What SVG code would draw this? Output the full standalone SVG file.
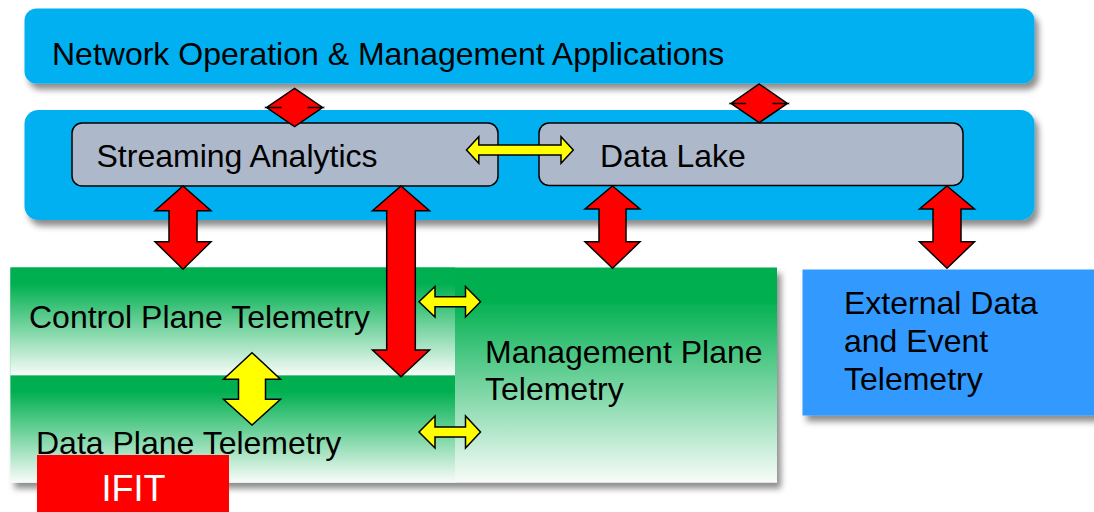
<svg xmlns="http://www.w3.org/2000/svg" width="1094" height="512" viewBox="0 0 1094 512">
  <defs>
    <filter id="shadow" x="-5%" y="-10%" width="115%" height="130%">
      <feDropShadow dx="4" dy="6" stdDeviation="3" flood-color="#000" flood-opacity="0.45"/>
    </filter>
    <linearGradient id="greenFade" x1="0" y1="0" x2="0" y2="1">
      <stop offset="0" stop-color="#00AE4F"/>
      <stop offset="0.15" stop-color="#00B050"/>
      <stop offset="1" stop-color="#F8FCF9"/>
    </linearGradient>
    <style>
      .lbl { font-family: "Liberation Sans", Arial, sans-serif; font-size: 32px; fill: #000; }
      .blue { fill: #00B0F0; filter: url(#shadow); }
      .gray { fill: #ADB9CA; stroke: #000; stroke-width: 1.5; }
      .green { fill: url(#greenFade); }
      .red { fill: #FF0000; stroke: #000; stroke-width: 1.5; stroke-linejoin: miter; }
      .yel { fill: #FFFF00; stroke: #000; stroke-width: 1.5; stroke-linejoin: miter; }
    </style>
  </defs>

  <!-- application layer -->
  <g id="apps">
    <rect class="blue" x="24.5" y="8.5" width="1010" height="75" rx="12"/>
    <text class="lbl" x="52" y="65">Network Operation &amp; Management Applications</text>
  </g>

  <!-- analytics layer container -->
  <g id="analytics-layer">
    <rect class="blue" x="24.5" y="110" width="1010" height="110" rx="14"/>
  </g>

  <g id="streaming">
    <rect class="gray" x="72" y="123" width="426" height="63" rx="10"/>
    <text class="lbl" x="96.5" y="167">Streaming Analytics</text>
  </g>

  <g id="datalake">
    <rect class="gray" x="539" y="123" width="424" height="62.5" rx="10"/>
    <text class="lbl" x="600" y="167">Data Lake</text>
  </g>

  <!-- telemetry sources -->
  <g id="mgmt-plane">
    <rect class="green" x="10.5" y="267.5" width="766.5" height="215" filter="url(#shadow)"/>
    <text class="lbl" x="485" y="363">Management Plane</text>
    <text class="lbl" x="485" y="400">Telemetry</text>
  </g>

  <g id="control-plane">
    <rect class="green" x="10.5" y="267.5" width="444.5" height="108"/>
    <text class="lbl" x="29" y="327.5">Control Plane Telemetry</text>
  </g>

  <g id="data-plane">
    <rect class="green" x="10.5" y="375.5" width="444.5" height="107"/>
    <text class="lbl" x="36" y="453.5">Data Plane Telemetry</text>
  </g>

  <g id="external">
    <rect x="802.5" y="269.5" width="300" height="146" fill="#3399FF" filter="url(#shadow)"/>
    <text class="lbl" x="844" y="313.5">External Data</text>
    <text class="lbl" x="844" y="352">and Event</text>
    <text class="lbl" x="844" y="390">Telemetry</text>
  </g>

  <!-- connectors: block double arrows -->
  <g id="connectors">
    <!-- apps <-> streaming analytics -->
    <path class="red" d="M294.6,88.3 L322.6,107.5 L307.6,107.5 L307.6,107.5 L322.6,107.5 L294.6,126.7 L266.6,107.5 L281.6,107.5 L281.6,107.5 L266.6,107.5 Z"/>
    <!-- apps <-> data lake -->
    <path class="red" d="M759.2,84 L787.4,103.4 L772.4,103.4 L772.4,103.4 L787.4,103.4 L759.2,122.7 L731,103.4 L746,103.4 L746,103.4 L731,103.4 Z"/>
    <!-- streaming <-> data lake -->
    <path class="yel" d="M466.5,150 L478.8,136.7 L478.8,145 L561,145 L561,136.7 L573.3,150 L561,163.3 L561,155 L478.8,155 L478.8,163.3 Z"/>
    <!-- streaming <-> control plane -->
    <path class="red" d="M183,186 L211,210.7 L197,210.7 L197,241.7 L211,241.7 L183,269.3 L155,241.7 L169,241.7 L169,210.7 L155,210.7 Z"/>
    <!-- streaming <-> data plane -->
    <path class="red" d="M401,186 L429.5,210.7 L415.3,210.7 L415.3,350 L429.5,350 L401,376.7 L372.5,350 L386.7,350 L386.7,210.7 L372.5,210.7 Z"/>
    <!-- data lake <-> management plane -->
    <path class="red" d="M612.5,186 L640,209 L626,209 L626,241.7 L640,241.7 L612.5,268.3 L585,241.7 L599,241.7 L599,209 L585,209 Z"/>
    <!-- data lake <-> external -->
    <path class="red" d="M947,186 L974.5,209 L961,209 L961,241.7 L974.5,241.7 L947,268.3 L919.5,241.7 L933,241.7 L933,209 L919.5,209 Z"/>
    <!-- control plane <-> data plane -->
    <path class="yel" d="M252,352.7 L280.5,379.3 L265.5,379.3 L265.5,399.3 L280.5,399.3 L252,425 L223.5,399.3 L238.5,399.3 L238.5,379.3 L223.5,379.3 Z"/>
    <!-- control plane <-> management plane -->
    <path class="yel" d="M419,301.7 L435,286.5 L435,296.7 L465.5,296.7 L465.5,286.5 L480.5,301.7 L465.5,317 L465.5,306.7 L435,306.7 L435,317 Z"/>
    <!-- data plane <-> management plane -->
    <path class="yel" d="M419,432 L435,416 L435,427 L465.5,427 L465.5,416 L480.5,432 L465.5,448 L465.5,437 L435,437 L435,448 Z"/>
  </g>

  <!-- IFIT tag -->
  <g id="ifit">
    <rect x="37" y="455" width="192" height="57" fill="#FF0000"/>
    <text x="101.5" y="500.5" font-family="Liberation Sans, Arial, sans-serif" font-size="36" fill="#FFFFFF">IFIT</text>
  </g>
</svg>
